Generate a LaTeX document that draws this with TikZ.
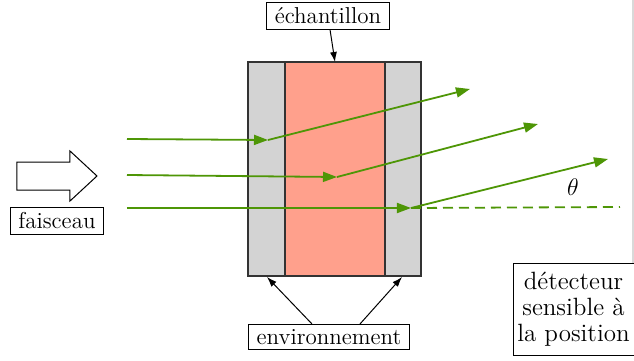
\documentclass[tikz,border=0pt]{standalone}
\usetikzlibrary{arrows.meta}
\definecolor{beam}{RGB}{78,150,6}
\definecolor{salmon}{RGB}{255,160,140}
\definecolor{wall}{RGB}{211,211,211}
\begin{document}
\begin{tikzpicture}[x=0.5pt,y=-0.5pt,
  lbl/.style={draw,fill=white,inner xsep=4pt,inner ysep=2.5pt,font=\fontsize{11.5}{12.5}\selectfont},
  ray/.style={beam,line width=0.9pt},
  raytip/.style={ray,-{Triangle[length=7pt,width=5pt]}},
  ptr/.style={-{Latex[length=5pt,width=3.5pt]},line width=0.5pt}]
\useasboundingbox (0,0) rectangle (634,360);
% sample
\fill[wall] (248,62) rectangle (421,276);
\fill[salmon] (285,62) rectangle (385,276);
\draw[black!80,line width=0.6pt] (248,62) rectangle (421,276);
\draw[black!80,line width=0.6pt] (285,62) -- (285,276) (385,62) -- (385,276);
\coordinate (stop) at (335,62);
\coordinate (sbl) at (267,277);
\coordinate (sbr) at (402,277);
% detector plane
\draw[black!15,line width=0.6pt] (633,0) -- (633,263);
% labels
\node[lbl] (ech) at (328,16) {échantillon};
\node[lbl] (fai) at (57,221) {faisceau};
\node[lbl] (env) at (329,337) {environnement};
\node[lbl,align=center,font=\fontsize{12.5}{13}\selectfont,minimum width=60.5pt,minimum height=46pt,inner xsep=2pt] (det) at (573.5,309) {détecteur\\sensible à\\la position};
\node (theta) at (573,187) {\fontsize{13}{15}\selectfont$\theta$};
% arrows to sample
\draw[ptr] (ech.south) ++(2,0) -- (stop);
\draw[ptr] (env.north) ++(-17,0) coordinate (e1) -- (sbl);
\draw[ptr] (env.north) ++(31,0) coordinate (e2) -- (sbr);
% beam arrow
\draw[fill=white,line width=0.5pt] (17,162) -- (70,162) -- (70,151) -- (97,176) -- (70,201) -- (70,190) -- (17,190) -- cycle;
% rays
\coordinate (a0) at (127,139); \coordinate (a1) at (268,140); \coordinate (a2) at (470,89);
\coordinate (b0) at (127,175); \coordinate (b1) at (337,177); \coordinate (b2) at (538,124);
\coordinate (c0) at (127,208); \coordinate (c1) at (411,208); \coordinate (c2) at (608,159);
\coordinate (c3) at (620,207);
\draw[raytip] (a0) -- (a1);
\draw[raytip] (a1) -- (a2);
\draw[raytip] (b0) -- (b1);
\draw[raytip] (b1) -- (b2);
\draw[raytip] (c0) -- (c1);
\draw[raytip] (c1) -- (c2);
\draw[ray,dash pattern=on 5pt off 3pt] (c1) -- (c3);
\end{tikzpicture}
\end{document}
